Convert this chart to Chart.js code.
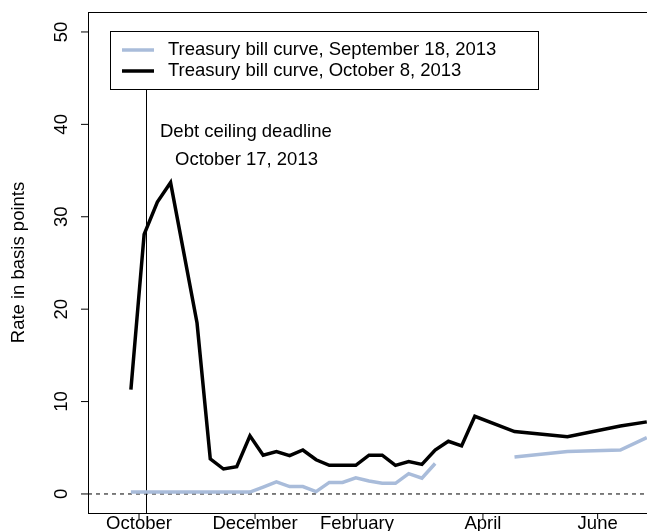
<!DOCTYPE html>
<html>
<head>
<meta charset="utf-8">
<script src="https://cdn.jsdelivr.net/npm/chart.js@4/dist/chart.umd.min.js"></script>
<style>
  html, body { margin: 0; padding: 0; background: #fff; overflow: hidden; }
  #wrap { width: 660px; height: 531px; }
</style>
</head>
<body>
<div id="wrap"><canvas id="grafico" width="660" height="531"></canvas></div>
<script>
// x = days since October 1, 2013 (maturity), y = rate in basis points
const diasSet = [8, 15, 22, 29, 36, 43, 50, 57, 64, 71, 78, 85, 92, 99, 106, 113, 120, 127, 134, 141, 148, 155, 162, 169, 211, 239, 267, 281];
const taxaSet = [0.2, 0.2, 0.2, 0.2, 0.2, 0.2, 0.2, 0.2, 0.2, 0.2, 0.75, 1.3, 0.8, 0.8, 0.25, 1.25, 1.25, 1.75, 1.4, 1.15, 1.15, 2.2, 1.7, 3.3, 4.0, 4.6, 4.75, 6.1];
const diasOut = [8, 15, 22, 29, 43, 50, 57, 64, 71, 78, 85, 92, 99, 106, 113, 120, 127, 134, 141, 148, 155, 162, 169, 176, 183, 190, 211, 239, 267, 281];
const taxaOut = [11.3, 28.1, 31.6, 33.7, 18.5, 3.8, 2.7, 2.95, 6.3, 4.2, 4.6, 4.15, 4.76, 3.7, 3.1, 3.1, 3.1, 4.2, 4.2, 3.1, 3.5, 3.2, 4.76, 5.7, 5.2, 8.4, 6.75, 6.2, 7.36, 7.8];
const mesesPos = [12.3, 73.7, 127.6, 194.3, 255];
const mesesNomes = ['October', 'December', 'February', 'April', 'June'];
const yTicks = [0, 10, 20, 30, 40, 50];
const prazoDia = 16; // October 17, 2013
const serieNomes = ['Treasury bill curve, September 18, 2013', 'Treasury bill curve, October 8, 2013'];

// gap between the two parts of the September curve
const pontosSet = diasSet.map((d, i) => ({ x: d, y: taxaSet[i] }));
pontosSet.splice(24, 0, { x: 190, y: null });
const pontosOut = diasOut.map((d, i) => ({ x: d, y: taxaOut[i] }));

const FONTE = '18.5px "Liberation Sans", Arial, sans-serif';

const desenhoR = {
  id: 'desenhoR',
  beforeDatasetsDraw(chart) {
    const { ctx, chartArea: a, scales: { x, y } } = chart;
    ctx.save();
    // dashed zero line
    ctx.strokeStyle = '#000';
    ctx.lineWidth = 1;
    ctx.setLineDash([4, 4]);
    ctx.beginPath();
    ctx.moveTo(a.left, y.getPixelForValue(0));
    ctx.lineTo(a.right, y.getPixelForValue(0));
    ctx.stroke();
    ctx.setLineDash([]);
    // deadline line
    const xv = Math.round(x.getPixelForValue(prazoDia)) + 0.5;
    ctx.beginPath();
    ctx.moveTo(xv, 89);
    ctx.lineTo(xv, a.bottom);
    ctx.stroke();
    ctx.restore();
  },
  afterDraw(chart) {
    const { ctx, chartArea: a, scales: { x, y } } = chart;
    ctx.save();
    ctx.strokeStyle = '#000';
    ctx.fillStyle = '#000';
    ctx.lineWidth = 1;
    // box
    ctx.strokeRect(a.left + 0.5, a.top + 0.5, a.right - a.left, a.bottom - a.top);
    ctx.font = FONTE;
    // x ticks
    ctx.textAlign = 'center';
    ctx.textBaseline = 'top';
    mesesPos.forEach((v, i) => {
      const px = x.getPixelForValue(v);
      ctx.beginPath();
      ctx.moveTo(px, a.bottom);
      ctx.lineTo(px, a.bottom + 6);
      ctx.stroke();
      ctx.fillText(mesesNomes[i], px, a.bottom + 2);
    });
    // y ticks (rotated labels)
    yTicks.forEach(v => {
      const py = y.getPixelForValue(v);
      ctx.beginPath();
      ctx.moveTo(a.left, py);
      ctx.lineTo(a.left - 7, py);
      ctx.stroke();
      ctx.save();
      ctx.translate(67, py);
      ctx.rotate(-Math.PI / 2);
      ctx.textAlign = 'center';
      ctx.textBaseline = 'alphabetic';
      ctx.fillText(String(v), 0, 0);
      ctx.restore();
    });
    // y title
    ctx.save();
    ctx.translate(24, (a.top + a.bottom) / 2);
    ctx.rotate(-Math.PI / 2);
    ctx.textAlign = 'center';
    ctx.textBaseline = 'alphabetic';
    ctx.fillText('Rate in basis points', 0, 0);
    ctx.restore();
    // legend
    ctx.fillStyle = '#fff';
    ctx.fillRect(110, 31, 428, 58);
    ctx.strokeRect(110.5, 31.5, 428, 58);
    const cores = ['#a9bcda', '#000'];
    ctx.textAlign = 'left';
    ctx.textBaseline = 'middle';
    [50, 71].forEach((ly, i) => {
      ctx.strokeStyle = cores[i];
      ctx.lineWidth = 3.5;
      ctx.beginPath();
      ctx.moveTo(122, ly);
      ctx.lineTo(154, ly);
      ctx.stroke();
      ctx.fillStyle = '#000';
      ctx.fillText(serieNomes[i], 168, ly);
    });
    // annotation
    ctx.fillText('Debt ceiling deadline', 160, 132);
    ctx.fillText('October 17, 2013', 175, 160);
    ctx.restore();
  }
};

new Chart(document.getElementById('grafico'), {
  type: 'line',
  data: {
    datasets: [
      { label: serieNomes[0], data: pontosSet, borderColor: '#a9bcda', borderWidth: 3.5, pointRadius: 0, spanGaps: false, tension: 0 },
      { label: serieNomes[1], data: pontosOut, borderColor: '#000', borderWidth: 3.5, pointRadius: 0, tension: 0 }
    ]
  },
  options: {
    responsive: false,
    animation: false,
    layout: { padding: { left: 88, top: 12, right: 10, bottom: 18 } },
    plugins: { legend: { display: false }, tooltip: { enabled: false } },
    scales: {
      x: { type: 'linear', display: false, min: -14.7, max: 282.7 },
      y: { display: false, min: -2.06, max: 52.16 }
    }
  },
  plugins: [desenhoR]
});
</script>
</body>
</html>
